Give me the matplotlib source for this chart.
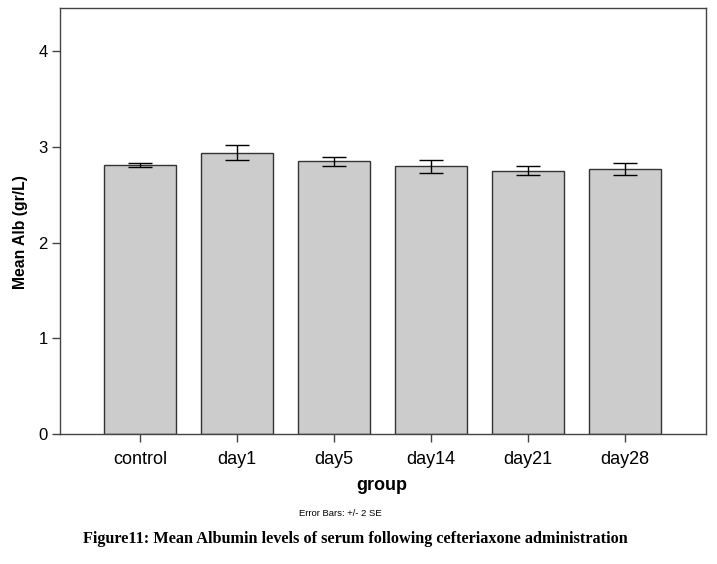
import matplotlib
matplotlib.use("Agg")
import matplotlib.pyplot as plt
import numpy as np

groups = ["control", "day1", "day5", "day14", "day21", "day28"]
means = [2.81, 2.94, 2.85, 2.80, 2.75, 2.77]
err_hi = [2.83, 3.02, 2.89, 2.86, 2.80, 2.83]
err_lo = [2.79, 2.86, 2.80, 2.73, 2.71, 2.71]
yticks = [0, 1, 2, 3, 4]

plt.rcParams['font.family'] = ['Liberation Sans', 'DejaVu Sans']

fig = plt.figure(figsize=(7.17, 5.64), dpi=100)
ax = fig.add_axes([60/717, 130/564, 646/717, 426/564])

x = np.arange(len(groups))
m = np.array(means)
yerr = np.vstack([m - np.array(err_lo), np.array(err_hi) - m])
ax.bar(x, means, width=0.75, color="#cccccc", edgecolor="#333333", linewidth=1.0, zorder=2)
ax.errorbar(x, means, yerr=yerr, fmt="none", ecolor="black", elinewidth=1.0,
            capsize=8.6, capthick=1.0, zorder=3)

ax.set_xlim(-0.824, 5.834)
ax.set_ylim(0, 4.45)
ax.set_xticks(x)
ax.set_xticklabels(groups, fontsize=13)
ax.set_yticks(yticks)
ax.set_yticklabels([str(t) for t in yticks], fontsize=12)
ax.tick_params(direction="out", length=6, width=1, color="#444444")
ax.tick_params(axis="x", pad=6)
ax.tick_params(axis="y", pad=3)
for s in ax.spines.values():
    s.set_color("#444444")
    s.set_linewidth(1.0)

ax.set_ylabel("Mean Alb (gr/L)", fontsize=11.3, fontweight="bold")
ax.yaxis.set_label_coords(-0.05, 0.475)
fig.text(382/717, 1 - 486/564, "group", ha="center", va="center", fontsize=13, fontweight="bold")
fig.text(340/717, 1 - 513/564, "Error Bars: +/- 2 SE", ha="center", va="center", fontsize=6.8)
fig.text(355/717, 1 - 539/564, "Figure11: Mean Albumin levels of serum following cefteriaxone administration",
         ha="center", va="center", fontsize=11.7, fontweight="bold", family="Liberation Serif")

fig.savefig("out.png", dpi=100)
